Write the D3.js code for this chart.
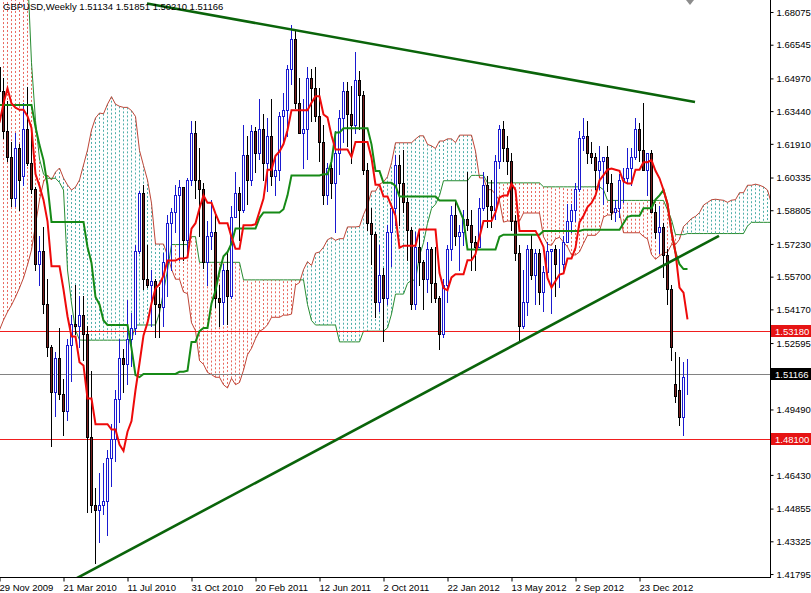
<!DOCTYPE html>
<html><head><meta charset="utf-8">
<script src="https://cdn.jsdelivr.net/npm/d3@7"></script>
<style>
body{margin:0;background:#fff}
svg{display:block}
text{font-family:"Liberation Sans",Arial,sans-serif;font-size:9.5px}
</style></head>
<body><svg id="c" width="811" height="593"></svg>
<script>
// ---------------- DATA ----------------
const symbolTitle = "GBPUSD,Weekly";
const lastQuote = [1.51134, 1.51851, 1.50210, 1.51166];
const firstWeek = "2009-11-29";
const opens = [1.6550,1.6440,1.6250,1.6130,1.5940,1.6170,1.6040,1.6260,1.6100,1.5980,
1.5630,1.5690,1.5440,1.5240,1.5030,1.5190,1.5020,1.4940,1.5250,1.5350,
1.5340,1.5390,1.5300,1.4820,1.4500,1.4480,1.4500,1.4520,1.4720,1.4810,
1.5000,1.5190,1.5160,1.5280,1.5330,1.5690,1.5960,1.5560,1.5530,1.5550,
1.5440,1.5430,1.5640,1.5820,1.5870,1.5950,1.5990,1.5740,1.6020,1.6240,
1.6020,1.5980,1.5640,1.5760,1.5780,1.5470,1.5450,1.5600,1.5480,1.5850,
1.5960,1.5880,1.6140,1.6020,1.6250,1.6150,1.6260,1.6100,1.6230,1.6040,
1.6070,1.6320,1.6350,1.6540,1.6680,1.6380,1.6240,1.6260,1.6500,1.6450,
1.6320,1.6200,1.5950,1.6080,1.6010,1.6150,1.6310,1.6440,1.6330,1.6280,
1.6490,1.6420,1.6070,1.5820,1.5770,1.5450,1.5580,1.5470,1.5780,1.5890,
1.6090,1.6010,1.5920,1.5790,1.5440,1.5710,1.5640,1.5560,1.5700,1.5540,
1.5470,1.5300,1.5530,1.5700,1.5860,1.5760,1.5780,1.5840,1.5810,1.5730,
1.5710,1.5890,1.6000,1.5900,1.5880,1.6110,1.6260,1.6170,1.6110,1.5830,
1.5680,1.5340,1.5450,1.5700,1.5580,1.5680,1.5500,1.5590,1.5690,1.5700,
1.5630,1.5630,1.5730,1.5830,1.5880,1.5980,1.6220,1.6230,1.6150,1.6130,
1.6070,1.6110,1.6130,1.6010,1.5870,1.5890,1.6020,1.6030,1.6080,1.6130,
1.6260,1.6160,1.6070,1.6150,1.5870,1.5780,1.5800,1.5670,1.5510,1.5068,
1.5040,1.4915,1.51134];
const highs = [1.6650,1.6500,1.6390,1.6200,1.6240,1.6190,1.6380,1.6458,1.6240,1.5990,
1.5760,1.5800,1.5560,1.5250,1.5220,1.5330,1.5090,1.5280,1.5390,1.5530,
1.5480,1.5480,1.5340,1.5130,1.4580,1.4650,1.4700,1.4760,1.4880,1.5040,
1.5280,1.5230,1.5460,1.5400,1.5720,1.5970,1.6000,1.5720,1.5600,1.5560,
1.5520,1.5680,1.5860,1.5890,1.6000,1.6020,1.5990,1.6030,1.6300,1.6300,
1.6170,1.6010,1.5830,1.5930,1.5860,1.5530,1.5630,1.5690,1.5900,1.6060,
1.5990,1.6280,1.6230,1.6280,1.6270,1.6400,1.6330,1.6310,1.6400,1.6140,
1.6340,1.6430,1.6560,1.6747,1.6720,1.6500,1.6400,1.6550,1.6540,1.6550,
1.6450,1.6280,1.6100,1.6110,1.6250,1.6350,1.6480,1.6480,1.6460,1.6620,
1.6530,1.6440,1.6100,1.5890,1.5780,1.5720,1.5610,1.5810,1.5900,1.6140,
1.6140,1.6160,1.5940,1.5800,1.5780,1.5780,1.5650,1.5730,1.5710,1.5710,
1.5480,1.5560,1.5720,1.5900,1.5930,1.5810,1.5880,1.6060,1.5880,1.5760,
1.5940,1.6060,1.6040,1.6020,1.6140,1.6280,1.6300,1.6230,1.6150,1.5860,
1.5720,1.5600,1.5720,1.5770,1.5700,1.5700,1.5620,1.5730,1.5700,1.5720,
1.5700,1.5760,1.5910,1.5910,1.6010,1.6250,1.6310,1.6300,1.6200,1.6150,
1.6180,1.6120,1.6180,1.6050,1.5930,1.6050,1.6080,1.6170,1.6170,1.6310,
1.6290,1.6380,1.6140,1.6160,1.5910,1.5900,1.5820,1.5700,1.5530,1.5217,
1.5194,1.5170,1.51851];
const lows = [1.6400,1.6220,1.6110,1.5900,1.5900,1.5880,1.6000,1.6090,1.5960,1.5600,
1.5530,1.5400,1.5200,1.4780,1.4920,1.5000,1.4830,1.4900,1.5080,1.5300,
1.5240,1.5180,1.4470,1.4470,1.4230,1.4330,1.4460,1.4360,1.4590,1.4710,
1.4890,1.5030,1.5070,1.5150,1.5300,1.5680,1.5510,1.5520,1.5340,1.5290,
1.5290,1.5340,1.5480,1.5600,1.5780,1.5650,1.5650,1.5660,1.6000,1.5940,
1.5760,1.5610,1.5530,1.5700,1.5430,1.5340,1.5350,1.5350,1.5470,1.5850,
1.5740,1.5870,1.5910,1.6000,1.6060,1.6120,1.6020,1.5970,1.6000,1.5950,
1.6020,1.6200,1.6230,1.6470,1.6360,1.6240,1.6080,1.6120,1.6300,1.6300,
1.6110,1.5910,1.5910,1.5940,1.5780,1.6050,1.6200,1.6180,1.6100,1.6240,
1.6260,1.6050,1.5790,1.5630,1.5380,1.5410,1.5270,1.5440,1.5620,1.5810,
1.5810,1.5870,1.5650,1.5420,1.5420,1.5530,1.5420,1.5500,1.5450,1.5450,
1.5233,1.5290,1.5450,1.5650,1.5720,1.5600,1.5720,1.5790,1.5600,1.5600,
1.5710,1.5880,1.5800,1.5800,1.5840,1.6080,1.6110,1.6050,1.5790,1.5650,
1.5268,1.5330,1.5390,1.5560,1.5440,1.5440,1.5410,1.5560,1.5400,1.5480,
1.5520,1.5590,1.5730,1.5780,1.5830,1.5970,1.6160,1.6100,1.6100,1.5980,
1.5980,1.5910,1.5970,1.5840,1.5830,1.5850,1.5920,1.6010,1.6000,1.6120,
1.6110,1.6110,1.5950,1.5870,1.5750,1.5680,1.5570,1.5440,1.5180,1.4984,
1.4877,1.4831,1.50210];
const closes = [1.6440,1.6250,1.6130,1.5940,1.6170,1.6020,1.6260,1.6100,1.5980,1.5630,
1.5690,1.5440,1.5240,1.5030,1.5190,1.5020,1.4940,1.5250,1.5350,1.5340,
1.5390,1.5300,1.4820,1.4500,1.4480,1.4500,1.4520,1.4720,1.4810,1.5000,
1.5190,1.5160,1.5280,1.5330,1.5690,1.5960,1.5560,1.5530,1.5550,1.5440,
1.5430,1.5640,1.5820,1.5870,1.5950,1.5990,1.5740,1.6020,1.6240,1.6020,
1.5980,1.5640,1.5760,1.5780,1.5470,1.5450,1.5600,1.5480,1.5850,1.5960,
1.5880,1.6140,1.6020,1.6250,1.6150,1.6260,1.6100,1.6230,1.6040,1.6070,
1.6320,1.6350,1.6540,1.6680,1.6380,1.6240,1.6260,1.6500,1.6450,1.6320,
1.6200,1.5950,1.6080,1.6010,1.6150,1.6310,1.6440,1.6330,1.6280,1.6490,
1.6420,1.6070,1.5820,1.5770,1.5450,1.5580,1.5470,1.5780,1.5890,1.6090,
1.6010,1.5920,1.5790,1.5440,1.5710,1.5640,1.5560,1.5700,1.5540,1.5470,
1.5300,1.5530,1.5700,1.5860,1.5760,1.5780,1.5840,1.5810,1.5730,1.5710,
1.5890,1.6000,1.5900,1.5880,1.6110,1.6260,1.6170,1.6110,1.5830,1.5680,
1.5340,1.5450,1.5700,1.5580,1.5680,1.5500,1.5590,1.5690,1.5700,1.5630,
1.5630,1.5730,1.5830,1.5880,1.5980,1.6220,1.6230,1.6150,1.6130,1.6070,
1.6110,1.6130,1.6010,1.5870,1.5890,1.6020,1.6030,1.6080,1.6130,1.6260,
1.6160,1.6070,1.6150,1.5870,1.5780,1.5800,1.5670,1.5510,1.5240,1.5012,
1.4914,1.5100,1.51166];
// Ichimoku values before the indicator windows are complete
const tenkanHead = [1.6290,1.6380,1.6450,1.6380,1.6360,1.6350,1.6350,1.6320];
const kijunHead = [1.6373,1.6373,1.6373,1.6373,1.6373,1.6373,1.6373,1.6373,1.6373,1.6270,
1.6185,1.6115,1.5998,1.5826,1.5826,1.5826,1.5826,1.5826,1.5826,1.5826,1.5826,1.5826,1.5709,1.5634,1.5475];
const spanAHead = [1.5321,1.5367,1.5405,1.5437,1.5475,1.5517,1.5564,1.5625,1.5695,1.5812,
1.5929,1.6013,1.6045,1.6022,1.6059,1.6078,1.6031,1.5999,1.5975,1.5989,1.6022,1.6092,1.6162,1.6256,1.6312,1.6335];
const spanBHead = [1.7000,1.7000,1.7000,1.7000,1.7000,1.7000,1.7000,1.7000,1.6570,1.6300,
1.6120,1.6050,1.6030,1.6030,1.6030,1.6010,1.5975,1.5601,1.5447,1.5320,
1.5274,1.5273,1.5273,1.5273,1.5273,1.5273,1.5273,1.5273,1.5273,1.5273,
1.5273,1.5273,1.5273,1.5273,1.5344,1.5344,1.5344,1.5344,1.5344,1.5344,
1.5400,1.5500,1.5600,1.5720,1.5720,1.5720,1.5720,1.5720,1.5757,1.5757,
1.5637,1.5637,1.5637,1.5637,1.5637,1.5637,1.5637,1.5637,1.5637,1.5637,
1.5637,1.5555,1.5555,1.5555,1.5555,1.5555,1.5555,1.5555,1.5555,1.5555,
1.5555,1.5555,1.5555,1.5555,1.5555,1.5555,1.5555];
const priceTicks = [1.68075,1.66545,1.64970,1.63440,1.61910,1.60335,1.58805,1.57230,1.55700,
1.54170,1.52595,1.49490,1.46430,1.44855,1.43325,1.41795];
const dateTicks = ["29 Nov 2009","21 Mar 2010","11 Jul 2010","31 Oct 2010","20 Feb 2011",
"12 Jun 2011","2 Oct 2011","22 Jan 2012","13 May 2012","2 Sep 2012","23 Dec 2012"];
const levelPrices = [1.53180, 1.51166, 1.48100];
const levelKinds = ["red", "grey", "red"];
// trend lines: [week index, price] anchors
const upperTrend = [[37, 1.68473], [174, 1.63867]];
const lowerTrend = [[19, 1.41558], [180, 1.57610]];

// ---------------- CHART ----------------
const svg = d3.select("#c");
const plotW = 770, plotH = 577;
const parseDay = d3.timeParse("%Y-%m-%d");
const parseTick = d3.timeParse("%d %b %Y");
const t0 = parseDay(firstWeek);
const WEEK = 7 * 864e5;
const weekDate = i => new Date(t0.getTime() + i * WEEK);
const N = opens.length;
const x = d3.scaleTime().domain([t0, weekDate(N - 1)]).range([-1, 4 * (N - 1) - 1]);
const y = d3.scaleLinear().domain([1.41656, 1.68636]).range([plotH, 0]);
const X = i => Math.round(x(weekDate(i)));

svg.append("defs").append("clipPath").attr("id", "clip")
  .append("rect").attr("x", 0).attr("y", 0).attr("width", plotW).attr("height", plotH);
const g = svg.append("g").attr("clip-path", "url(#clip)");

// Ichimoku computation
const hh = (a, b) => d3.max(highs.slice(Math.max(0, a), b + 1));
const ll = (a, b) => d3.min(lows.slice(Math.max(0, a), b + 1));
const tenkan = d3.range(N).map(i => i < tenkanHead.length ? tenkanHead[i] : (hh(i - 8, i) + ll(i - 8, i)) / 2);
const kijun = d3.range(N).map(i => i < kijunHead.length ? kijunHead[i] : (hh(i - 25, i) + ll(i - 25, i)) / 2);
const M = N + 26;
const spanA = d3.range(M).map(i => i < spanAHead.length ? spanAHead[i] : (tenkan[i - 26] + kijun[i - 26]) / 2);
const spanB = d3.range(M).map(i => i < spanBHead.length ? spanBHead[i] : (hh(i - 77, i - 26) + ll(i - 77, i - 26)) / 2);

// cloud hatch
const kumo = d3.range(M).map(i => ({i, a: spanA[i], b: spanB[i]}));
g.append("g").selectAll("line").data(kumo).join("line")
  .attr("x1", d => X(d.i) + 0.5).attr("x2", d => X(d.i) + 0.5)
  .attr("y1", d => y(d.a)).attr("y2", d => y(d.b))
  .style("stroke", d => d.a >= d.b ? "rgb(80,175,170)" : "rgb(232,105,95)")
  .style("stroke-width", "1px").style("stroke-dasharray", "2,2");
const lineI = arr => d3.line().x((d, i) => X(i) + 0.5).y(d => y(d))(arr);
g.append("path").attr("d", lineI(spanA)).style("fill", "none").style("stroke", "rgb(190,70,55)").style("stroke-width", "1px");
g.append("path").attr("d", lineI(spanB)).style("fill", "none").style("stroke", "rgb(40,140,50)").style("stroke-width", "1px");

// horizontal levels
g.append("g").selectAll("line").data(levelPrices).join("line")
  .attr("x1", 0).attr("x2", plotW)
  .attr("y1", d => Math.round(y(d)) + 0.5).attr("y2", d => Math.round(y(d)) + 0.5)
  .style("stroke", (d, i) => levelKinds[i] === "red" ? "rgb(240,30,30)" : "rgb(130,130,130)").style("stroke-width", "1px");

// candles
const bars = d3.range(N).map(i => ({i, o: opens[i], h: highs[i], l: lows[i], c: closes[i]}));
const cg = g.append("g");
cg.selectAll("line").data(bars).join("line")
  .attr("x1", d => X(d.i) + 0.5).attr("x2", d => X(d.i) + 0.5)
  .attr("y1", d => Math.round(y(d.h))).attr("y2", d => Math.round(y(d.l)) + 1)
  .style("stroke", d => d.c >= d.o ? "#1a1ad0" : "#000").style("stroke-width", "1px");
cg.selectAll("rect").data(bars).join("rect")
  .attr("x", d => X(d.i) - 0.5).attr("width", 2)
  .attr("y", d => Math.round(y(Math.max(d.o, d.c))) + 0.5)
  .attr("height", d => Math.max(0, Math.round(y(Math.min(d.o, d.c))) - Math.round(y(Math.max(d.o, d.c)))))
  .style("fill", d => d.c >= d.o ? "#fff" : "#7a1f1f")
  .style("stroke", d => d.c >= d.o ? "#1a1ad0" : "#000").style("stroke-width", "1px");

// tenkan / kijun
g.append("path").attr("d", lineI(kijun)).style("fill", "none").style("stroke", "#168a16").style("stroke-width", "2px");
g.append("path").attr("d", lineI(tenkan)).style("fill", "none").style("stroke", "#ee0a0a").style("stroke-width", "2px");

// trend lines
[upperTrend, lowerTrend].forEach(t => {
  g.append("line")
    .attr("x1", x(weekDate(t[0][0]))).attr("y1", y(t[0][1]))
    .attr("x2", x(weekDate(t[1][0]))).attr("y2", y(t[1][1]))
    .style("stroke", "#0a640a").style("stroke-width", "2.6px");
});

// axes
svg.append("line").attr("x1", plotW + 0.5).attr("x2", plotW + 0.5).attr("y1", 0).attr("y2", plotH + 1).style("stroke", "#000");
svg.append("line").attr("x1", 0).attr("x2", plotW + 1).attr("y1", plotH + 0.5).attr("y2", plotH + 0.5).style("stroke", "#000");

const yAxis = d3.axisRight(y).tickValues(priceTicks).tickSize(3).tickPadding(3).tickFormat(d3.format(".5f"));
const ya = svg.append("g").attr("transform", `translate(${plotW + 0.5},0)`).call(yAxis);
ya.select(".domain").remove();
ya.selectAll("text").attr("fill", "#000").style("font-size", "9.5px").attr("dy", "0.34em");

const tickDates = dateTicks.map(parseTick);
const xAxis = d3.axisBottom(x).tickValues(tickDates).tickSize(4).tickPadding(3).tickFormat((d, i) => dateTicks[i]);
const xa = svg.append("g").attr("transform", `translate(0.5,${plotH + 0.5})`).call(xAxis);
xa.select(".domain").remove();
xa.selectAll("text").attr("text-anchor", "start").attr("dx", "-0.5").attr("fill", "#000").style("font-size", "9.5px");

// level labels
levelPrices.forEach((p, i) => {
  const yy = Math.round(y(p));
  svg.append("rect").attr("x", plotW + 1).attr("y", yy - 6).attr("width", 40).attr("height", 12)
    .style("fill", levelKinds[i] === "red" ? "#e61414" : "#000");
  svg.append("text").attr("x", plotW + 5).attr("y", yy + 3.5).style("fill", "#fff")
    .text(d3.format(".5f")(p));
});

// title
svg.append("text").attr("x", 3).attr("y", 9.5).style("fill", "#000")
  .text(symbolTitle + "  " + lastQuote.map(d3.format(".5f")).join(" "));

// chart shift marker
svg.append("path").attr("d", "M686,0 L694,0 L690,5 Z").style("fill", "#8c8c8c");
</script></body></html>
